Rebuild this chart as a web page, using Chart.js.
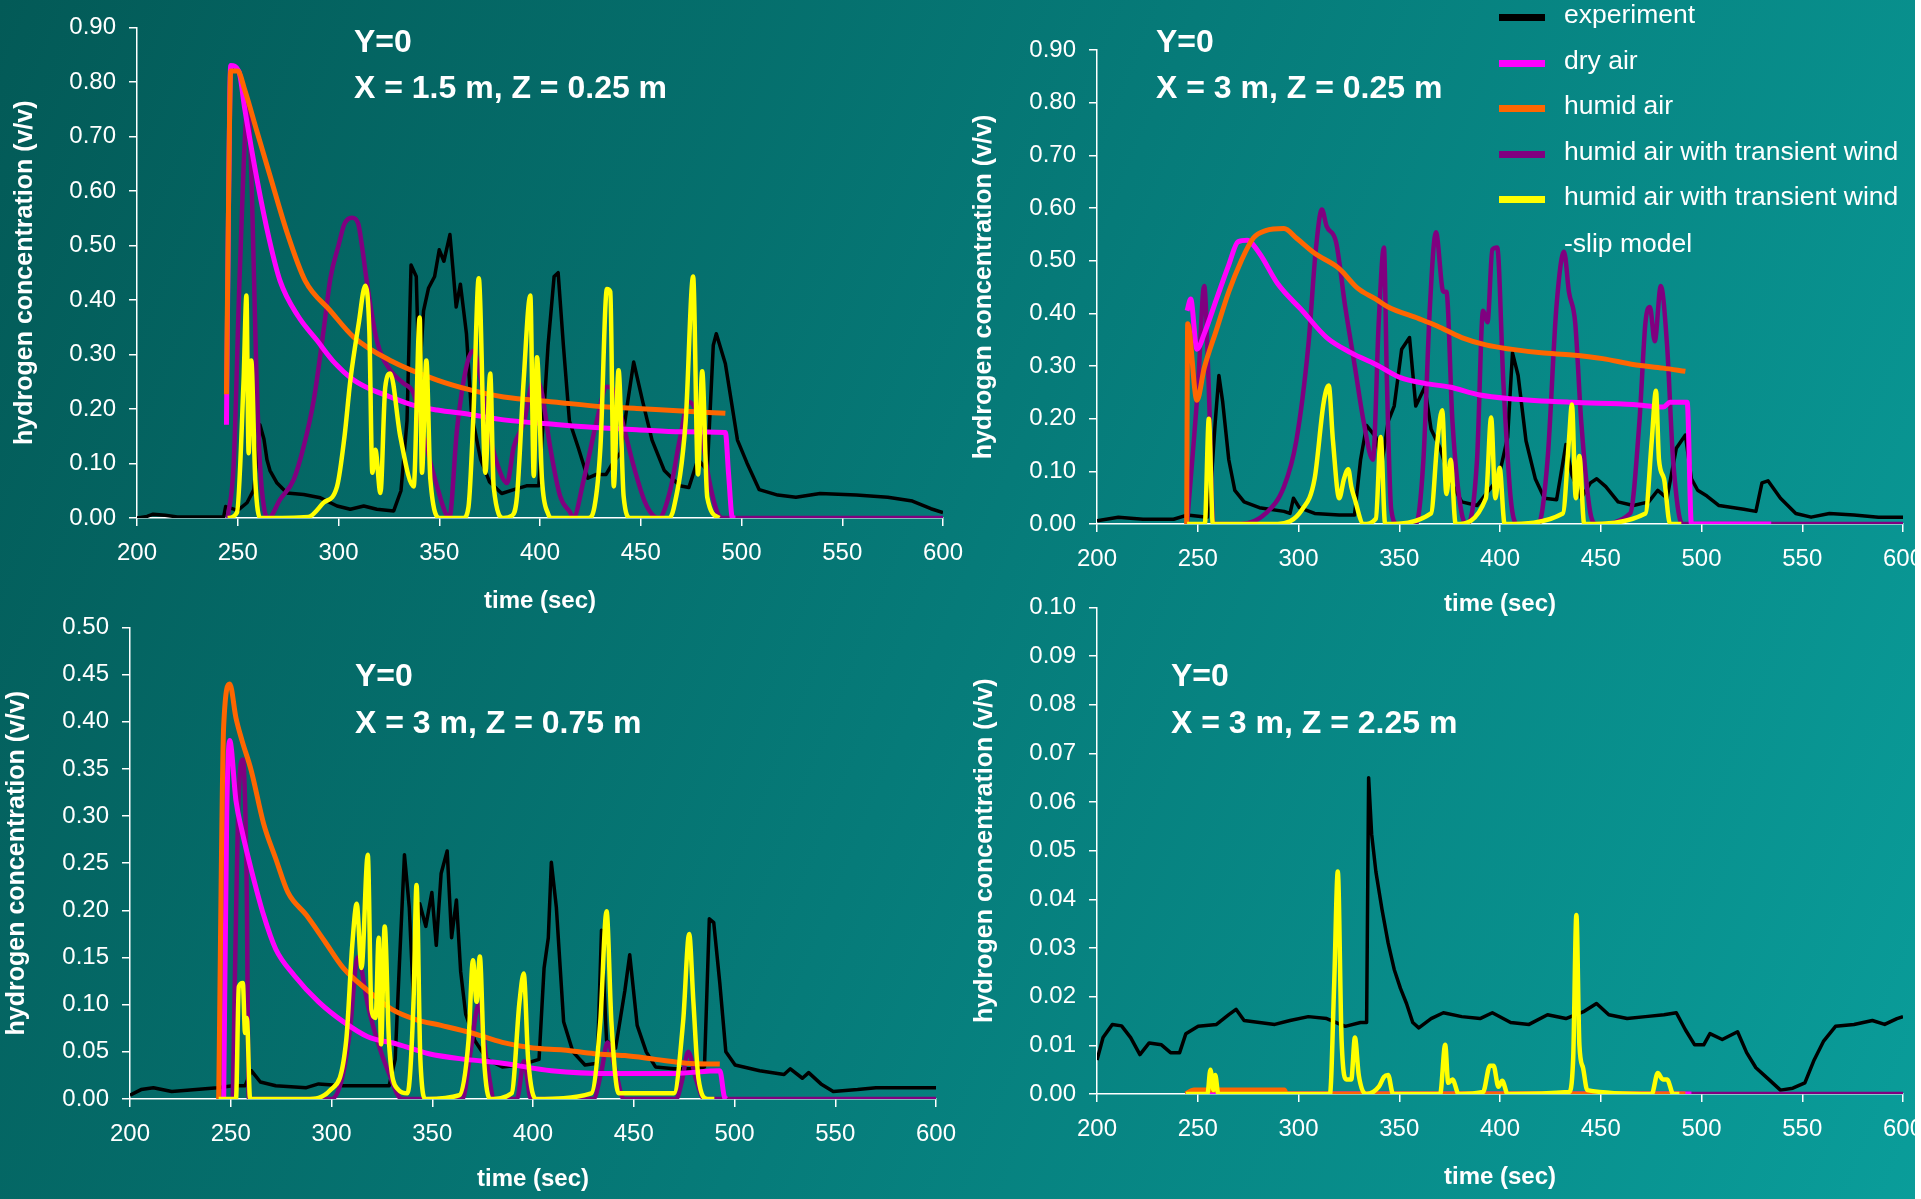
<!DOCTYPE html>
<html>
<head>
<meta charset="utf-8">
<script src="https://cdn.jsdelivr.net/npm/chart.js@4.4.0/dist/chart.umd.min.js"></script>
<style>
  html, body { margin: 0; padding: 0; }
  body {
    width: 1921px; height: 1199px; overflow: hidden; position: relative;
    background: linear-gradient(112deg, #035a57 0%, #067b79 50%, #0a9d9a 100%);
    font-family: 'Liberation Sans', Arial, sans-serif; color: #fff;
  }
  canvas { position: absolute; }
  .note { position: absolute; font-size: 32px; font-weight: bold; line-height: 32px; white-space: nowrap; }
  .leg { position: absolute; left: 1564px; font-size: 26.5px; line-height: 26px; white-space: nowrap; }
  .sw { position: absolute; left: 1499px; width: 46px; height: 7px; }
  #edge { position: absolute; right: 0; top: 0; width: 6px; height: 1199px; background: #fff; }
</style>
</head>
<body>
<canvas id="c1" width="980" height="630" style="left:0px;top:0px"></canvas>
<canvas id="c2" width="1000" height="630" style="left:960px;top:0px"></canvas>
<canvas id="c3" width="980" height="599" style="left:0px;top:600px"></canvas>
<canvas id="c4" width="1000" height="619" style="left:960px;top:580px"></canvas>

<div class="note" style="left:354px;top:25px">Y=0</div>
<div class="note" style="left:354px;top:71px">X = 1.5 m, Z = 0.25 m</div>
<div class="note" style="left:1156px;top:25px">Y=0</div>
<div class="note" style="left:1156px;top:71px">X = 3 m, Z = 0.25 m</div>
<div class="note" style="left:355px;top:659px">Y=0</div>
<div class="note" style="left:355px;top:706px">X = 3 m, Z = 0.75 m</div>
<div class="note" style="left:1171px;top:659px">Y=0</div>
<div class="note" style="left:1171px;top:706px">X = 3 m, Z = 2.25 m</div>

<div class="sw" style="top:13.5px;background:#000000"></div>
<div class="sw" style="top:59.5px;background:#ff00ff"></div>
<div class="sw" style="top:104.5px;background:#ff6600"></div>
<div class="sw" style="top:150.5px;background:#800080"></div>
<div class="sw" style="top:195.5px;background:#ffff00"></div>
<div class="leg" style="top:0.5px">experiment</div>
<div class="leg" style="top:46.5px">dry air</div>
<div class="leg" style="top:91.5px">humid air</div>
<div class="leg" style="top:137.5px">humid air with transient wind</div>
<div class="leg" style="top:182.5px">humid air with transient wind</div>
<div class="leg" style="top:229.5px">-slip model</div>
<div id="edge"></div>

<script>
// series labels (legend order)
const seriesNames = ['experiment', 'dry air', 'humid air', 'humid air with transient wind', 'humid air with transient wind -slip model'];
const seriesColors = ['#000000', '#ff00ff', '#ff6600', '#800080', '#ffff00'];

// x axis (time, sec)
const xMin = 200, xMax = 600, xStep = 50;
// y axis ranges per panel: [min, max, step]
const yRange1 = [0, 0.9, 0.1];
const yRange2 = [0, 0.9, 0.1];
const yRange3 = [0, 0.5, 0.05];
const yRange4 = [0, 0.1, 0.01];

// ---- panel 1: X = 1.5 m, Z = 0.25 m  ([time, concentration])
const p1Exp = [[200,0.0],[205,0.003],[208,0.007],[214,0.005],[220,0.002],[243,0.002],[244,0.021],[250,0.014],[254.6,0.028],[258,0.052],[259.6,0.12],[261,0.171],[263,0.145],[264.5,0.107],[266,0.087],[269.5,0.064],[274.4,0.046],[282.7,0.043],[291,0.037],[299.3,0.022],[305.9,0.016],[312.5,0.022],[319,0.016],[327.4,0.013],[331,0.05],[334,0.178],[336,0.464],[338.6,0.443],[340,0.248],[342.2,0.38],[344.7,0.422],[347.7,0.443],[350,0.492],[352.3,0.471],[355.3,0.52],[356.8,0.457],[358.4,0.387],[360.5,0.429],[363.5,0.338],[366,0.192],[370.5,0.108],[375,0.066],[381,0.045],[387,0.052],[393.3,0.059],[399.4,0.059],[402,0.2],[404,0.317],[407,0.443],[409,0.45],[411.6,0.317],[414.6,0.178],[419,0.129],[423.7,0.073],[428,0.08],[432.8,0.08],[436,0.1],[440,0.12],[443,0.2],[446.5,0.286],[451,0.213],[455.6,0.143],[461.7,0.087],[469.3,0.059],[473.9,0.056],[478.4,0.108],[483,0.087],[486,0.317],[487.5,0.338],[492,0.283],[495,0.213],[498,0.143],[502.7,0.101],[508.8,0.052],[518,0.042],[527,0.038],[539,0.045],[557,0.042],[572.6,0.038],[584.8,0.031],[594,0.017],[600,0.01]];
const p1Dry = [[244.4,0.171],[245.5,0.6],[246.5,0.83],[250.5,0.82],[253.5,0.75],[259.6,0.62],[265.7,0.51],[271,0.435],[280,0.37],[289.3,0.326],[298,0.285],[307.5,0.253],[316,0.236],[325.7,0.222],[337,0.207],[348.9,0.198],[365.4,0.19],[382,0.18],[406.8,0.172],[431.6,0.165],[448,0.162],[470,0.158],[492,0.157],[493.6,0.08],[495.5,0],[497,0]];
const p1Hum = [[244.4,0.227],[245.5,0.6],[246.5,0.82],[250,0.82],[253.5,0.785],[259.6,0.708],[265.7,0.632],[274.8,0.52],[283.5,0.435],[296,0.38],[307.5,0.332],[325.7,0.289],[349,0.253],[365.4,0.235],[382,0.222],[406.8,0.213],[431.6,0.204],[448,0.201],[466,0.197],[492,0.192]];
const p1Wind = [[245,0],[248,0.1],[251,0.45],[255,0.757],[257,0.6],[259,0.3],[261,0.1],[263,0.02],[265.3,0],[271,0.034],[277.7,0.07],[282.7,0.131],[287.7,0.216],[292.6,0.344],[296,0.44],[300,0.5],[303,0.54],[306.7,0.551],[309.7,0.541],[312,0.49],[314,0.435],[319,0.326],[325.7,0.271],[332.3,0.247],[337.3,0.228],[342.3,0.15],[348.9,0.058],[353,0.01],[355,0],[358.8,0.162],[363.8,0.283],[367,0.307],[370.4,0.259],[375.3,0.149],[380.3,0.083],[383.6,0.064],[387,0.131],[391.9,0.174],[396.9,0.253],[400.2,0.241],[405,0.131],[410,0.04],[415,0.01],[416.5,0],[421.7,0.07],[428.3,0.18],[433.2,0.241],[436.6,0.235],[441.5,0.168],[446.5,0.095],[452,0.03],[456,0.005],[459,0],[464.7,0.052],[469.3,0.143],[473.9,0.213],[478.4,0.185],[484.5,0.059],[488,0.01],[490.6,0],[600,0]];
const p1Slip = [[245,0],[249.6,0.01],[252.9,0.253],[254.3,0.408],[255.4,0.119],[256.7,0.289],[258.7,0.07],[261.2,0],[285,0.002],[292.6,0.028],[299.3,0.058],[303,0.15],[305.9,0.253],[310,0.356],[313.3,0.426],[315.3,0.344],[316.8,0.083],[318.3,0.125],[320.8,0.046],[323.2,0.24],[325.7,0.265],[330.7,0.149],[337.3,0.058],[340.3,0.368],[341.4,0.083],[343.6,0.289],[345.6,0.07],[350.5,0],[362,0],[364.5,0.02],[367,0.192],[369.6,0.44],[372.9,0.083],[375.3,0.265],[377,0.058],[382,0],[386,0.004],[388.6,0.04],[391.9,0.253],[395.2,0.408],[396.9,0.077],[398.5,0.295],[401,0.07],[404,0.008],[406,0],[424,0],[427,0.02],[430,0.131],[433.2,0.42],[434.9,0.415],[436.6,0.058],[439,0.271],[441.5,0.04],[444.8,0],[464,0],[466.3,0.017],[472.3,0.178],[476,0.443],[478.4,0.08],[480.5,0.269],[483,0.038],[489,0]];

// ---- panel 2: X = 3 m, Z = 0.25 m
const p2Exp = [[200,0.006],[210.6,0.013],[222.8,0.009],[238,0.009],[244.7,0.017],[254.8,0.013],[256.9,0.093],[258.7,0.195],[260.5,0.282],[262.4,0.231],[265.4,0.122],[268.4,0.064],[273,0.042],[280.6,0.031],[292.8,0.024],[295.8,0.02],[297.5,0.049],[300.4,0.031],[308,0.02],[320.2,0.017],[327.8,0.017],[330.8,0.122],[333.8,0.187],[338.4,0.165],[341.4,0.115],[344.5,0.195],[347.5,0.224],[351.2,0.332],[355.1,0.354],[358.2,0.224],[362.7,0.26],[365.8,0.18],[370.3,0.144],[374.9,0.086],[381,0.042],[388.6,0.035],[393,0.057],[399.2,0.086],[403.8,0.165],[406.2,0.325],[409,0.282],[412.9,0.158],[417.5,0.086],[422,0.049],[428.1,0.046],[432.7,0.151],[435.7,0.093],[440.3,0.049],[444.9,0.078],[448,0.086],[452.5,0.071],[458.6,0.042],[466.2,0.035],[473.8,0.042],[478.3,0.064],[482.9,0.049],[487.5,0.144],[492,0.169],[495,0.086],[498.1,0.064],[502.7,0.053],[508.7,0.035],[521,0.028],[527,0.024],[530,0.078],[533,0.082],[539.2,0.049],[546.8,0.02],[554.4,0.013],[563.5,0.02],[575.7,0.017],[587.8,0.013],[600,0.013]];
const p2Dry = [[244.7,0.405],[246.5,0.427],[249.6,0.332],[253.2,0.361],[259.3,0.427],[265.4,0.492],[270,0.536],[274.5,0.539],[280.6,0.514],[289.7,0.456],[301.9,0.405],[314,0.354],[326.2,0.325],[338.4,0.303],[350.6,0.278],[362.7,0.267],[374.9,0.26],[390,0.245],[405.3,0.238],[435.7,0.231],[466,0.227],[481,0.222],[484.4,0.231],[492.9,0.231],[495,0],[534.6,0]];
const p2Hum = [[244.5,0],[245,0.38],[249.6,0.235],[253.2,0.296],[259.3,0.369],[265.4,0.441],[271.5,0.499],[277.6,0.543],[283.7,0.557],[292.8,0.561],[298.9,0.543],[308,0.514],[320.2,0.485],[329.3,0.448],[338.4,0.427],[344.5,0.412],[359.7,0.39],[368.8,0.376],[381,0.354],[393,0.34],[405.3,0.332],[420.5,0.325],[435.7,0.321],[451,0.314],[466,0.303],[481,0.296],[492,0.29]];
const p2Wind = [[244.7,0],[250.2,0.267],[253.2,0.452],[255.4,0.267],[257.8,0],[271.5,0],[283.7,0.02],[292.8,0.071],[298.9,0.158],[304.9,0.34],[308.6,0.521],[311.6,0.597],[314,0.565],[318.6,0.536],[323.2,0.412],[327.8,0.303],[332.3,0.195],[336.9,0.122],[339.9,0.39],[342.4,0.525],[343.9,0.267],[346,0.028],[349,0],[358.2,0],[362,0.122],[365.2,0.412],[368.2,0.554],[371.9,0.441],[373.4,0.441],[376.4,0.195],[381,0.02],[384,0],[388.6,0.122],[391.6,0.405],[393.8,0.383],[396.2,0.521],[398.6,0.525],[401.7,0.267],[405.3,0.049],[408.4,0],[419,0],[423.6,0.122],[428,0.412],[431.8,0.517],[434.2,0.441],[437.3,0.383],[440.3,0.195],[444.9,0.02],[447.9,0],[464.6,0.02],[469.2,0.195],[472.2,0.383],[474.4,0.412],[476.8,0.347],[479.8,0.452],[482.9,0.34],[485.9,0.122],[490.5,0],[600,0]];
const p2Slip = [[244.7,0],[253.5,0],[255.5,0.2],[257.5,0],[289.7,0],[301.9,0.028],[308,0.086],[312.5,0.231],[315,0.263],[317.1,0.158],[320.2,0.049],[322.6,0.086],[324.7,0.104],[326.2,0.071],[327.8,0.049],[332.3,0],[338.4,0.01],[340.8,0.165],[343,0],[365.8,0.02],[368.8,0.151],[371.3,0.216],[373.4,0.057],[375.5,0.122],[378,0],[393,0.049],[395.6,0.202],[397.7,0.049],[399.8,0.107],[402.3,0],[431.2,0.02],[434.2,0.158],[435.7,0.227],[437.6,0.049],[439.4,0.129],[441.8,0],[472.2,0.02],[475.3,0.158],[477.4,0.253],[478.9,0.122],[481.4,0.086],[484.4,0],[490,0]];

// ---- panel 3: X = 3 m, Z = 0.75 m
const p3Exp = [[200,0.004],[205.5,0.01],[211.6,0.012],[220.7,0.008],[232.8,0.01],[243.5,0.012],[251,0.014],[257.1,0.014],[260.2,0.03],[264.7,0.018],[272.3,0.014],[287.5,0.012],[293.6,0.016],[305.8,0.014],[318,0.014],[328.6,0.014],[331.6,0.042],[333.7,0.143],[336.2,0.259],[338.6,0.203],[340.7,0.103],[343.8,0.207],[346.8,0.183],[349.8,0.219],[352,0.163],[354.4,0.239],[357.4,0.263],[359.6,0.171],[362,0.211],[364.1,0.135],[366.6,0.09],[371.1,0.062],[377.2,0.042],[384.8,0.034],[393.9,0.036],[403,0.042],[405.5,0.139],[407.6,0.171],[409.1,0.251],[411.6,0.203],[415.2,0.082],[419.8,0.05],[425.8,0.036],[431.9,0.038],[434,0.179],[436.5,0.062],[441,0.054],[445.6,0.115],[448,0.153],[451.7,0.078],[456.2,0.05],[460.8,0.034],[469.9,0.032],[479,0.032],[485.1,0.034],[487.5,0.191],[489.7,0.187],[492.7,0.123],[495.7,0.05],[500.3,0.036],[512.5,0.03],[524.6,0.026],[527.7,0.032],[533.7,0.022],[536.8,0.028],[542.9,0.016],[549,0.008],[561.1,0.01],[570.2,0.012],[585.4,0.012],[600,0.012]];
const p3Dry = [[246.5,0],[248,0.3],[249.5,0.38],[252.6,0.316],[255.6,0.284],[260.2,0.243],[266.3,0.195],[272.3,0.159],[281.5,0.131],[293.6,0.103],[305.8,0.082],[318,0.066],[333,0.058],[348.3,0.048],[366.6,0.042],[384.8,0.038],[409.1,0.03],[439.5,0.027],[469.9,0.027],[492.7,0.03],[495,0.002],[496,0]];
const p3Hum = [[244,0],[246.5,0.396],[249.5,0.44],[252.6,0.404],[255.6,0.38],[260.2,0.348],[266.3,0.292],[272.3,0.255],[278.4,0.219],[287.5,0.195],[296.7,0.167],[305.8,0.139],[318,0.115],[330,0.095],[342.2,0.084],[354.4,0.078],[369.6,0.07],[384.8,0.06],[400,0.054],[415.2,0.052],[430.4,0.048],[445.6,0.046],[460.8,0.042],[476,0.038],[492.7,0.037]];
const p3Wind = [[251,0],[254,0.324],[256,0.36],[257.8,0.243],[259,0],[300,0],[305,0.02],[309,0.07],[313,0.15],[318,0.1],[323,0.06],[328,0.03],[335,0],[365,0],[369,0.05],[373,0.1],[377,0.04],[381,0],[392,0],[395.5,0.04],[399,0],[430,0],[434,0.03],[437,0.06],[441,0.03],[445,0],[471,0],[474,0.02],[477,0.05],[481,0.02],[485,0],[600,0]];
const p3Slip = [[244,0],[252.6,0],[254,0.119],[256,0.123],[257.1,0.07],[258,0.086],[259.6,0],[287.5,0],[299.7,0.01],[307.3,0.062],[310.3,0.163],[312.5,0.207],[314.9,0.139],[318,0.259],[319.8,0.095],[321.9,0.086],[323.4,0.171],[324.6,0.058],[326.4,0.183],[328.6,0.058],[333.1,0.01],[337.7,0.006],[340.7,0.103],[342.2,0.227],[344.1,0.042],[346.8,0],[363.5,0.004],[368,0.062],[370.2,0.147],[372,0.103],[373.6,0.151],[375.7,0.042],[378.7,0],[389.4,0.006],[393.3,0.103],[395.4,0.133],[397.6,0.042],[401.5,0],[428.9,0.006],[433.4,0.082],[436.5,0.199],[438.9,0.082],[442.5,0.006],[469.9,0.006],[474.5,0.082],[477.5,0.175],[479.6,0.103],[482.1,0.022],[486.6,0],[490,0]];

// ---- panel 4: X = 3 m, Z = 2.25 m
const p4Exp = [[200,0.007],[203,0.0116],[207.6,0.0143],[212.2,0.014],[216.7,0.0116],[221.3,0.0081],[225.9,0.0105],[232,0.0101],[236.5,0.0085],[241,0.0085],[244.1,0.0124],[250.2,0.0139],[259.3,0.0143],[265.4,0.0163],[269,0.0174],[273,0.0151],[280.6,0.0147],[288.2,0.0143],[295.8,0.0151],[304.9,0.0159],[314,0.0155],[323.2,0.0139],[330.8,0.0147],[333.8,0.0147],[334.8,0.065],[336.3,0.0534],[338.4,0.0457],[341.4,0.038],[344.5,0.031],[347.5,0.0256],[350.6,0.0217],[353.6,0.0186],[356.7,0.0147],[359.7,0.0136],[365.8,0.0155],[371.9,0.0167],[381,0.0159],[390.1,0.0155],[396.2,0.0167],[405.3,0.0147],[414.4,0.0143],[423.6,0.0163],[432.7,0.0155],[441.8,0.017],[447.9,0.0186],[454,0.0163],[463.1,0.0155],[472.2,0.0159],[481.4,0.0163],[487.5,0.0167],[492,0.0132],[496.6,0.0101],[501.1,0.0101],[504.2,0.0124],[510.3,0.0112],[517.9,0.0128],[522.4,0.0085],[527,0.0054],[533.1,0.0031],[539.2,0.0008],[545.3,0.0012],[551.3,0.0023],[555.9,0.007],[560.5,0.0108],[566.5,0.0139],[575.7,0.0143],[584.8,0.0151],[590.9,0.0143],[597,0.0155],[600,0.0159]];
const p4Dry = [[244,0],[495,0]];
const p4Hum = [[244,0],[248,0.0008],[293,0.0008],[294,0],[492,0]];
const p4Wind = [[244,0],[600,0]];
const p4Slip = [[244.1,0],[254.8,0],[256.3,0.005],[257.8,0.0008],[258.7,0.0039],[260.2,0],[315.6,0],[317.7,0.0225],[319.5,0.0457],[321.4,0.0108],[323.8,0.003],[326.2,0.003],[328,0.0116],[329.9,0.0039],[333.8,0],[339.9,0.0015],[342.4,0.0035],[344.5,0.0039],[346.9,0],[370.3,0],[372.8,0.0101],[374.3,0.0023],[376.4,0.003],[379.5,0],[391.6,0.0004],[395,0.0058],[396.8,0.0058],[399.2,0.0015],[401.1,0.0027],[403.8,0],[434.2,0.0004],[436.3,0.007],[437.9,0.0368],[439.4,0.0101],[441.2,0.0054],[443.3,0.0008],[475.3,0],[478.3,0.0043],[480.8,0.003],[482.9,0.003],[486,0],[489,0]];

Chart.defaults.font.family = "'Liberation Sans', Arial, sans-serif";
Chart.defaults.color = '#ffffff';

const toXY = pts => pts.map(([x, y]) => ({ x, y }));
// drawing order: slip on top, experiment at the bottom
const drawOrder = [5, 3, 2, 4, 1];
const widths = [3.5, 5, 5, 4.5, 4.5];

function makeChart(id, series, yRange, g) {
  new Chart(document.getElementById(id), {
    type: 'line',
    data: {
      datasets: series.map((pts, i) => ({
        label: seriesNames[i],
        data: toXY(pts),
        borderColor: seriesColors[i],
        borderWidth: widths[i],
        pointRadius: 0,
        // model curves are smooth, the measurement stays jagged
        cubicInterpolationMode: i === 0 ? 'default' : 'monotone',
        tension: i === 0 ? 0 : 0.4,
        borderJoinStyle: 'round',
        fill: false,
        order: drawOrder[i]
      }))
    },
    options: {
      responsive: false,
      animation: false,
      events: [],
      layout: { padding: { left: g.padL, top: g.padT, right: g.padR, bottom: g.padB } },
      plugins: { legend: { display: false }, tooltip: { enabled: false } },
      scales: {
        x: {
          type: 'linear', min: xMin, max: xMax,
          afterFit: s => { s.height = g.xh; },
          ticks: { stepSize: xStep, padding: 13, maxRotation: 0, autoSkip: false, color: '#fff', font: { size: 24 } },
          grid: { drawOnChartArea: false, tickLength: 8, color: '#fff', lineWidth: 1.5 },
          border: { color: '#fff', width: 1.5 },
          title: { display: true, text: 'time (sec)', color: '#fff', padding: 0, font: { size: 24, weight: 'bold' } }
        },
        y: {
          type: 'linear', min: yRange[0], max: yRange[1],
          afterFit: s => { s.width = g.yw; },
          ticks: { stepSize: yRange[2], padding: 13, color: '#fff', font: { size: 24 }, callback: v => v.toFixed(2) },
          grid: { drawOnChartArea: false, tickLength: 8, color: '#fff', lineWidth: 1.5 },
          border: { color: '#fff', width: 1.5 },
          title: { display: true, text: 'hydrogen concentration (v/v)', color: '#fff', padding: 0, font: { size: 25, weight: 'bold' } }
        }
      }
    }
  });
}

makeChart('c1', [p1Exp, p1Dry, p1Hum, p1Wind, p1Slip], yRange1, { padL: 10.6, padT: 25, padR: 37, padB: 14.6, yw: 126.4, xh: 97.4 });
makeChart('c2', [p2Exp, p2Dry, p2Hum, p2Wind, p2Slip], yRange2, { padL: 9.6, padT: 50, padR: 57, padB: 11.6, yw: 127.4, xh: 94.4 });
makeChart('c3', [p3Exp, p3Dry, p3Hum, p3Wind, p3Slip], yRange3, { padL: 2.1, padT: 24, padR: 44, padB: 5.1, yw: 127.9, xh: 94.9 });
makeChart('c4', [p4Exp, p4Dry, p4Hum, p4Wind, p4Slip], yRange4, { padL: 10.6, padT: 20, padR: 57, padB: 7.1, yw: 126.4, xh: 97.9 });
</script>
</body>
</html>
